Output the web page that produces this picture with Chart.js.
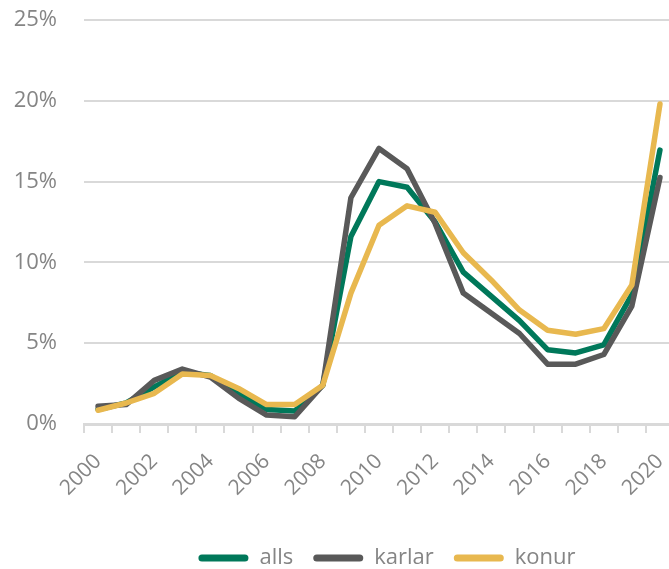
<!DOCTYPE html>
<html>
<head>
<meta charset="utf-8">
<script src="https://cdn.jsdelivr.net/npm/chart.js@4"></script>
<style>
  html, body { margin: 0; padding: 0; background: #fff; overflow: hidden; }
  #wrap { width: 674px; height: 569px; }
</style>
</head>
<body>
<div id="wrap"><canvas id="myChart"></canvas></div>
<script>
var years = ['2000', '2001', '2002', '2003', '2004', '2005', '2006', '2007', '2008', '2009', '2010',
             '2011', '2012', '2013', '2014', '2015', '2016', '2017', '2018', '2019', '2020'];
var alls   = [0.9, 1.3, 2.3, 3.2, 3.0, 1.9, 0.9, 0.8, 2.4, 11.6, 15.0, 14.65, 12.5, 9.4, 7.9, 6.4, 4.6, 4.4, 4.9, 8.0, 16.95];
var karlar = [1.1, 1.2, 2.7, 3.4, 2.9, 1.6, 0.55, 0.45, 2.4, 14.0, 17.05, 15.8, 12.4, 8.1, 6.85, 5.6, 3.7, 3.7, 4.3, 7.3, 15.25];
var konur  = [0.85, 1.3, 1.9, 3.1, 3.0, 2.2, 1.2, 1.2, 2.4, 8.1, 12.3, 13.5, 13.1, 10.6, 8.9, 7.05, 5.8, 5.55, 5.9, 8.6, 19.8];
var yTicks = [0, 5, 10, 15, 20, 25];

var green = '#00785a';
var gray = '#595959';
var gold = '#e8b84f';
var labelColor = '#858585';
var gridColor = '#d9d9d9';

Chart.defaults.font.family = '"Open Sans", sans-serif';

function line(label, data, color, order) {
    return {
        label: label,
        data: data,
        borderColor: color,
        backgroundColor: color,
        borderWidth: 5.5,
        borderJoinStyle: 'round',
        borderCapStyle: 'round',
        pointRadius: 0,
        tension: 0,
        order: order
    };
}

// nudge the legend a bit to the right, like the original
var legendShift = {
    id: 'legendShift',
    afterLayout: function (c) {
        c.legend.left += 8;
        c.legend.right += 8;
    }
};

var ctx = document.getElementById('myChart').getContext('2d');
var chart = new Chart(ctx, {
    type: 'line',
    data: {
        labels: years,
        datasets: [
            line('alls', alls, green, 3),
            line('karlar', karlar, gray, 2),
            line('konur', konur, gold, 1)
        ]
    },
    plugins: [legendShift],
    options: {
        responsive: true,
        maintainAspectRatio: false,
        animation: false,
        layout: { padding: { top: 0, right: 0, left: 0, bottom: -10 } },
        plugins: {
            tooltip: { enabled: false },
            legend: {
                position: 'bottom',
                fullSize: false,
                labels: {
                    color: labelColor,
                    font: { size: 22 },
                    boxWidth: 50,
                    boxHeight: 7,
                    padding: 20,
                    useBorderRadius: true,
                    borderRadius: 3.5,
                    generateLabels: function (c) {
                        return c.data.datasets.map(function (ds, i) {
                            return {
                                text: ds.label,
                                fillStyle: ds.borderColor,
                                strokeStyle: ds.borderColor,
                                lineWidth: 0,
                                fontColor: labelColor,
                                borderRadius: 3.5,
                                datasetIndex: i
                            };
                        });
                    }
                }
            }
        },
        scales: {
            x: {
                offset: true,
                afterFit: function (axis) {
                    axis.height = 103;
                    axis.paddingLeft = 0;
                    axis.paddingRight = 0;
                },
                grid: {
                    display: true,
                    offset: true,
                    drawOnChartArea: false,
                    drawTicks: true,
                    tickLength: 9,
                    color: gridColor,
                    lineWidth: 2
                },
                border: { display: true, color: gridColor, width: 3 },
                ticks: {
                    autoSkip: false,
                    maxRotation: 45,
                    minRotation: 45,
                    color: labelColor,
                    font: { size: 21 },
                    padding: 16,
                    callback: function (v, i) {
                        return i % 2 === 0 ? years[i] : '';
                    }
                }
            },
            y: {
                min: 0,
                max: 25,
                afterFit: function (axis) {
                    axis.width = 84;
                    axis.paddingTop = 20;
                    axis.paddingBottom = 0;
                },
                afterBuildTicks: function (axis) {
                    axis.ticks = yTicks.map(function (v) { return { value: v }; });
                },
                grid: {
                    color: gridColor,
                    lineWidth: 2,
                    drawTicks: false
                },
                border: { display: false },
                ticks: {
                    color: labelColor,
                    font: { size: 22 },
                    padding: 27,
                    callback: function (v) { return v + '%'; }
                }
            }
        }
    }
});
</script>
</body>
</html>
